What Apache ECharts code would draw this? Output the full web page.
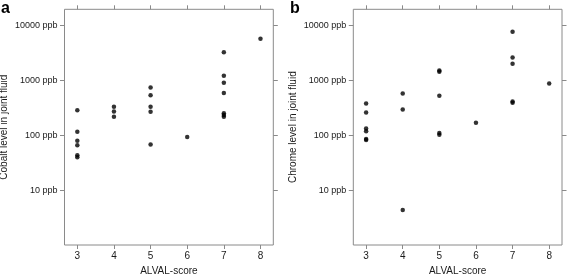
<!DOCTYPE html>
<html><head><meta charset="utf-8">
<script src="https://cdn.jsdelivr.net/npm/echarts@6/dist/echarts.min.js"></script>
<style>html,body{margin:0;padding:0;background:#fff}#c{width:567px;height:275px}</style>
</head><body><div id="c"></div><script>
// ---- data ----
const scoreTicks = [3, 4, 5, 6, 7, 8];
const levelTicks = [10, 100, 1000, 10000];
const cobaltScore = [3,3,3,3,3,3, 4,4,4, 5,5,5,5,5, 6, 7,7,7,7,7,7,7, 8];
const cobaltLevel = [290,118,81,67,44,40.5, 336,273,221, 746,543,333,270,68.6, 94.6, 3282,1217,908,597,255,238,221, 5728];
const chromeScore = [3,3,3,3,3,3, 4,4,4, 5,5,5,5,5, 6, 7,7,7,7,7, 8];
const chromeLevel = [382,262,134,120,87,83.6, 580,297,4.46, 1520,1439,527,111,104, 172, 7676,2620,2013,415,394, 882];
const panelLetters = ['a', 'b'];
const yTitles = ['Cobalt level in joint fluid', 'Chrome level in joint fluid'];
const xTitle = 'ALVAL-score';

// ---- chart ----
const FONT = 'Liberation Sans, Arial, sans-serif';
const FRAME = '#8a8a8a';
const TXT = '#1a1a1a';
const chart = echarts.init(document.getElementById('c'), null, {renderer: 'canvas'});
const grids = [
  {left: 64.5, top: 9.3, width: 208.8, height: 235.7},
  {left: 353.3, top: 9.3, width: 208.7, height: 235.7}
];
const X_MIN = 2.65, X_MAX = 8.35, Y_MIN = 1.03, Y_MAX = 19700;
const xAxes = [], yAxes = [];
grids.forEach((g, i) => {
  ['bottom', 'top'].forEach(pos => {
    xAxes.push({
      type: 'value', gridIndex: i, position: pos, min: X_MIN, max: X_MAX,
      axisLine: {show: false}, splitLine: {show: false},
      axisTick: {show: true, inside: false, length: 4, customValues: scoreTicks, lineStyle: {color: FRAME, width: 1}},
      axisLabel: {show: pos === 'bottom', customValues: scoreTicks, margin: 6, fontSize: 10, color: TXT, fontFamily: FONT},
      name: pos === 'bottom' ? xTitle : '', nameLocation: 'middle', nameGap: 17,
      nameTextStyle: {fontSize: 10, color: TXT, fontFamily: FONT}
    });
  });
  ['left', 'right'].forEach(pos => {
    yAxes.push({
      type: 'log', gridIndex: i, position: pos, min: Y_MIN, max: Y_MAX, logBase: 10,
      axisLine: {show: false}, splitLine: {show: false},
      axisTick: {show: true, inside: false, length: 4.5, customValues: levelTicks, lineStyle: {color: FRAME, width: 1}},
      axisLabel: {show: pos === 'left', customValues: levelTicks, margin: 7, fontSize: 9, color: TXT, fontFamily: FONT,
        formatter: v => v + ' ppb'},
      name: pos === 'left' ? yTitles[i] : '', nameLocation: 'middle', nameGap: 55, nameRotate: 90,
      nameTextStyle: {fontSize: 10, color: TXT, fontFamily: FONT}
    });
  });
});

const cobaltData = cobaltScore.map((s, k) => [s, cobaltLevel[k]]);
const chromeData = chromeScore.map((s, k) => [s, chromeLevel[k]]);

chart.setOption({
  animation: false,
  backgroundColor: '#fff',
  grid: grids.map(g => Object.assign({show: true, borderColor: FRAME, borderWidth: 1, backgroundColor: 'transparent',
    containLabel: false, outerBoundsMode: 'none'}, g)),
  xAxis: xAxes,
  yAxis: yAxes,
  graphic: [
    {type: 'text', left: 1, top: 1, style: {text: panelLetters[0], font: 'bold 16px ' + FONT, fill: '#000'}},
    {type: 'text', left: 290, top: 1, style: {text: panelLetters[1], font: 'bold 16px ' + FONT, fill: '#000'}}
  ],
  series: [
    {type: 'scatter', xAxisIndex: 0, yAxisIndex: 0, data: cobaltData, symbol: 'circle', symbolSize: 4.5, itemStyle: {color: '#000'}},
    {type: 'scatter', xAxisIndex: 2, yAxisIndex: 2, data: chromeData, symbol: 'circle', symbolSize: 4.5, itemStyle: {color: '#000'}}
  ]
});
</script></body></html>
